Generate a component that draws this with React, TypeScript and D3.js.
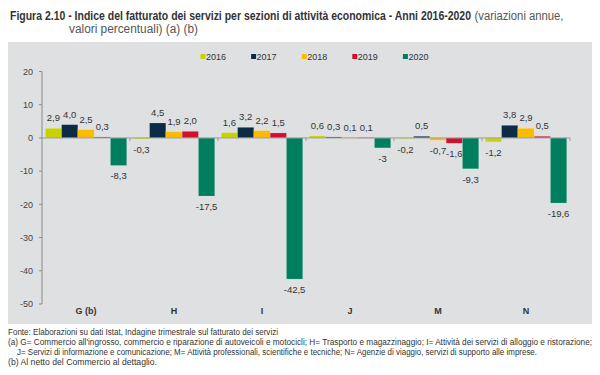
import React from "react";
import * as d3 from "d3";

const categories = ["G (b)", "H", "I", "J", "M", "N"];
const seriesNames = ["2016", "2017", "2018", "2019", "2020"];
const values2016 = [2.9, -0.3, 1.6, 0.6, -0.2, -1.2];
const values2017 = [4.0, 4.5, 3.2, 0.3, 0.5, 3.8];
const values2018 = [2.5, 1.9, 2.2, 0.1, -0.7, 2.9];
const values2019 = [0.3, 2.0, 1.5, 0.1, -1.6, 0.5];
const values2020 = [-8.3, -17.5, -42.5, -3, -9.3, -19.6];
const labels2016 = ["2,9", "-0,3", "1,6", "0,6", "-0,2", "-1,2"];
const labels2017 = ["4,0", "4,5", "3,2", "0,3", "0,5", "3,8"];
const labels2018 = ["2,5", "1,9", "2,2", "0,1", "-0,7", "2,9"];
const labels2019 = ["0,3", "2,0", "1,5", "0,1", "-1,6", "0,5"];
const labels2020 = ["-8,3", "-17,5", "-42,5", "-3", "-9,3", "-19,6"];
const yTicks = [20, 10, 0, -10, -20, -30, -40, -50];
const colors = ["#c8d200", "#0d2b45", "#fbbb00", "#d1102d", "#007f5f"];

const seriesValues = [values2016, values2017, values2018, values2019, values2020];
const seriesLabels = [labels2016, labels2017, labels2018, labels2019, labels2020];

const titleBold = "Figura 2.10 - Indice del fatturato dei servizi per sezioni di attività economica - Anni 2016-2020";
const titleRegular = "(variazioni annue,";
const titleLine2 = "valori percentuali) (a) (b)";
const footFonte = "Fonte: Elaborazioni su dati Istat, Indagine trimestrale sul fatturato dei servizi";
const footA1 = "(a) G= Commercio all'ingrosso, commercio e riparazione di autoveicoli e motocicli; H= Trasporto e magazzinaggio; I= Attività dei servizi di alloggio e ristorazione;";
const footA2 = "J= Servizi di informazione e comunicazione; M= Attività professionali, scientifiche e tecniche; N= Agenzie di viaggio, servizi di supporto alle imprese.";
const footB = "(b) Al netto del Commercio al dettaglio.";

const ARIAL = "'Liberation Sans', Arial, sans-serif";
const NARROW = "'Liberation Sans Narrow', 'Arial Narrow', 'Liberation Sans', Arial, sans-serif";

export default function App() {
  const x = d3.scaleBand<string>().domain(categories).range([42, 570]).paddingInner(0).paddingOuter(0);
  const xi = d3.scaleBand<string>().domain(seriesNames).range([0, x.bandwidth()]).paddingInner(0).paddingOuter(0.2);
  const y = d3.scaleLinear().domain([-50, 20]).range([304, 71.5]);
  const y0 = y(0);

  return (
    <svg width={600} height={375} style={{ position: "absolute", left: 0, top: 0 }}>
      <rect x={0} y={0} width={600} height={375} fill="#ffffff" />
      {/* title */}
      <text x={10} y={20} fontFamily={NARROW} fontWeight="bold" fontSize={12.5} fill="#333" textLength={461} lengthAdjust="spacingAndGlyphs">{titleBold}</text>
      <text x={474.5} y={20} fontFamily={NARROW} fontSize={12.5} fill="#555" textLength={89} lengthAdjust="spacingAndGlyphs">{titleRegular}</text>
      <text x={69} y={32.5} fontFamily={NARROW} fontSize={12.5} fill="#555" textLength={129} lengthAdjust="spacingAndGlyphs">{titleLine2}</text>

      {/* panel */}
      <rect x={8} y={42} width={584} height={282} fill="#dfe0e2" />

      {/* legend */}
      {seriesNames.map((s, i) => (
        <g key={s} transform={`translate(${200.5 + i * 50.6},56.5)`}>
          <rect x={0} y={-2.5} width={5} height={5} fill={colors[i]} />
          <text x={5.5} y={3.3} fontFamily={ARIAL} fontSize={9} fill="#333">{s}</text>
        </g>
      ))}

      {/* y axis */}
      <line x1={42} x2={42} y1={y(20)} y2={y(-50)} stroke="#8a8a8a" strokeWidth={1} />
      {yTicks.map((t) => (
        <g key={t}>
          <line x1={39} x2={42} y1={y(t)} y2={y(t)} stroke="#8a8a8a" strokeWidth={1} />
          <text x={33} y={y(t) + 3.3} textAnchor="end" fontFamily={ARIAL} fontSize={9} fill="#444">{t}</text>
        </g>
      ))}

      {/* bars */}
      {categories.map((c, ci) => (
        <g key={c} transform={`translate(${x(c)},0)`}>
          {seriesNames.map((s, si) => {
            const v = seriesValues[si][ci];
            const top = Math.min(y(v), y0);
            const h = Math.abs(y(v) - y0);
            return (
              <rect key={s} x={xi(s)} y={top} width={xi.bandwidth()} height={Math.max(h, 0.6)} fill={colors[si]} stroke="#ffffff" strokeOpacity={0.35} strokeWidth={0.5} />
            );
          })}
        </g>
      ))}

      {/* zero line and category ticks */}
      <line x1={42} x2={570} y1={y0} y2={y0} stroke="#9a9a9a" strokeWidth={1} />
      {categories.map((c) => (
        <line key={c} x1={(x(c) as number) + x.bandwidth()} x2={(x(c) as number) + x.bandwidth()} y1={y0} y2={y0 + 3} stroke="#9a9a9a" strokeWidth={1} />
      ))}

      {/* value labels */}
      {categories.map((c, ci) => (
        <g key={c} transform={`translate(${x(c)},0)`}>
          {seriesNames.map((s, si) => {
            const v = seriesValues[si][ci];
            const cx = (xi(s) as number) + xi.bandwidth() / 2;
            const ty = v >= 0 ? y(v) - 7 : y(v) + 14;
            return (
              <text key={s} x={cx} y={ty} textAnchor="middle" fontFamily={ARIAL} fontSize={9.5} fill="#333">{seriesLabels[si][ci]}</text>
            );
          })}
        </g>
      ))}

      {/* category labels */}
      {categories.map((c) => (
        <text key={c} x={(x(c) as number) + x.bandwidth() / 2} y={313.5} textAnchor="middle" fontFamily={ARIAL} fontWeight="bold" fontSize={9} fill="#333">{c}</text>
      ))}

      {/* footnotes */}
      <text x={8} y={334.5} fontFamily={NARROW} fontSize={8.5} fill="#333" textLength={270} lengthAdjust="spacingAndGlyphs">{footFonte}</text>
      <text x={8} y={345} fontFamily={NARROW} fontSize={8.5} fill="#333" textLength={584} lengthAdjust="spacingAndGlyphs">{footA1}</text>
      <text x={17} y={354.5} fontFamily={NARROW} fontSize={8.5} fill="#333" textLength={520} lengthAdjust="spacingAndGlyphs">{footA2}</text>
      <text x={8} y={364.5} fontFamily={NARROW} fontSize={8.5} fill="#333" textLength={149} lengthAdjust="spacingAndGlyphs">{footB}</text>
    </svg>
  );
}
